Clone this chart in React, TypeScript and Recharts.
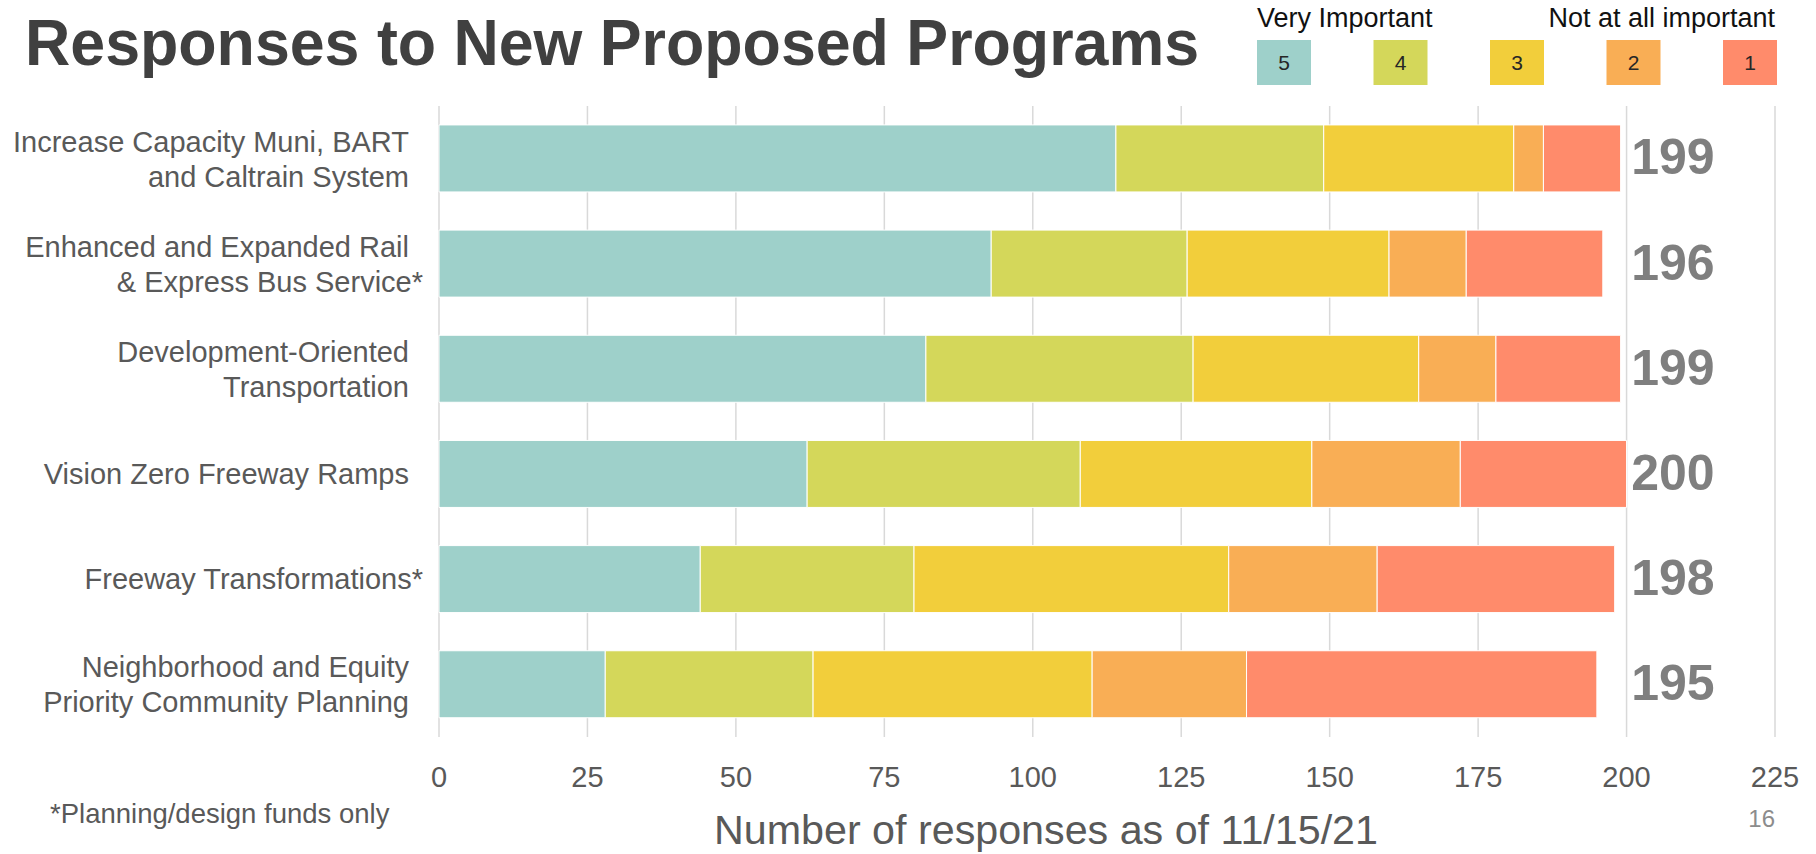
import React from "react";
import { BarChart, Bar, XAxis, YAxis, CartesianGrid, LabelList } from "recharts";

// ---------- data ----------
const categories = [
  "Increase Capacity Muni, BART\nand Caltrain System",
  "Enhanced and Expanded Rail\n& Express Bus Service*",
  "Development-Oriented\nTransportation",
  "Vision Zero Freeway Ramps",
  "Freeway Transformations*",
  "Neighborhood and Equity\nPriority Community Planning",
];
const score5 = [114, 93, 82, 62, 44, 28];
const score4 = [35, 33, 45, 46, 36, 35];
const score3 = [32, 34, 38, 39, 53, 47];
const score2 = [5, 13, 13, 25, 25, 26];
const score1 = [13, 23, 21, 28, 40, 59];
const xTicks = [0, 25, 50, 75, 100, 125, 150, 175, 200, 225];
const seriesNames = ["5", "4", "3", "2", "1"];
const seriesKeys = ["s5", "s4", "s3", "s2", "s1"];
const seriesColors = ["#9ED0CA", "#D4D75A", "#F2CE3B", "#F9AE55", "#FF8B6B"];
const titleText = "Responses to New Proposed Programs";
const legendHigh = "Very Important";
const legendLow = "Not at all important";
const xAxisTitle = "Number of responses as of 11/15/21";
const footnote = "*Planning/design funds only";
const pageNumber = "16";

const seriesValues = [score5, score4, score3, score2, score1];
const data = categories.map((name, i) => {
  const row: any = { name };
  seriesKeys.forEach((k, j) => (row[k] = seriesValues[j][i]));
  row.total = seriesValues.reduce((s, arr) => s + arr[i], 0);
  return row;
});

// ---------- layout ----------
const W = 1816;
const H = 854;
const PLOT_LEFT = 439;
const PLOT_TOP = 106;
const PLOT_BOTTOM = 737;
const PLOT_RIGHT = 1775;
const LABEL_VALUE = 207.8;
const FONT = "'Liberation Sans', Arial, sans-serif";

const YTick = (props: any) => {
  const { y, payload } = props;
  const lines = String(payload.value).split("\n");
  const base = lines.length === 1 ? [10] : [-7, 28];
  return (
    <g>
      {lines.map((ln, i) => (
        <text
          key={i}
          x={409 + (ln.endsWith("*") ? 14 : 0)}
          y={y + base[i]}
          textAnchor="end"
          fontSize={29}
          fontFamily={FONT}
          fill="#595959"
        >
          {ln}
        </text>
      ))}
    </g>
  );
};

const XTick = (props: any) => {
  const { x, payload } = props;
  return (
    <text x={x} y={PLOT_BOTTOM + 50} textAnchor="middle" fontSize={29} fontFamily={FONT} fill="#595959">
      {payload.value}
    </text>
  );
};

const TotalLabel = (props: any) => {
  const { x, y, width, height, value } = props;
  const end = Number(x) + Number(width);
  const ppu = (end - PLOT_LEFT) / Number(value);
  const cx = PLOT_LEFT + LABEL_VALUE * ppu;
  return (
    <text
      x={cx}
      y={Number(y) + Number(height) / 2 + 16}
      textAnchor="middle"
      fontSize={50}
      fontWeight="bold"
      fontFamily={FONT}
      fill="#7F7F7F"
    >
      {value}
    </text>
  );
};

export default function App() {
  return (
    <div style={{ position: "absolute", left: 0, top: 0, width: W, height: H, background: "#fff" }}>
      <BarChart
        width={W}
        height={H}
        data={data}
        layout="vertical"
        margin={{ top: PLOT_TOP, right: W - PLOT_RIGHT, bottom: 0, left: 0 }}
        barCategoryGap="18%"
      >
        <CartesianGrid horizontal={false} vertical={true} stroke="#D9D9D9" strokeWidth={1.5} />
        <XAxis
          type="number"
          domain={[0, 225]}
          ticks={xTicks}
          interval={0}
          axisLine={false}
          tickLine={false}
          height={H - PLOT_BOTTOM}
          tick={<XTick />}
        />
        <YAxis
          type="category"
          dataKey="name"
          width={PLOT_LEFT}
          axisLine={false}
          tickLine={false}
          interval={0}
          tick={<YTick />}
        />
        {seriesKeys.map((k, j) => (
          <Bar
            key={k}
            dataKey={k}
            name={seriesNames[j]}
            stackId="a"
            fill={seriesColors[j]}
            stroke="#FFFFFF"
            strokeWidth={1}
            isAnimationActive={false}
          >
            {j === seriesKeys.length - 1 ? <LabelList dataKey="total" content={<TotalLabel />} /> : null}
          </Bar>
        ))}
      </BarChart>
      <svg
        width={W}
        height={H}
        style={{ position: "absolute", left: 0, top: 0, pointerEvents: "none" }}
      >
        <text
          x={25}
          y={65}
          fontSize={65}
          fontWeight="bold"
          fontFamily={FONT}
          fill="#404040"
          textLength={1174}
          lengthAdjust="spacingAndGlyphs"
        >
          {titleText}
        </text>
        <text x={1257} y={27} fontSize={27} fontFamily={FONT} fill="#111">
          {legendHigh}
        </text>
        <text x={1775} y={27} fontSize={27} fontFamily={FONT} fill="#111" textAnchor="end">
          {legendLow}
        </text>
        {seriesNames.map((n, j) => {
          const lx = 1257 + j * 116.5;
          return (
            <g key={n}>
              <rect x={lx} y={40} width={54} height={45} fill={seriesColors[j]} />
              <text x={lx + 27} y={70} textAnchor="middle" fontSize={21} fontFamily={FONT} fill="#262626">
                {n}
              </text>
            </g>
          );
        })}
        <text
          x={1046}
          y={844}
          textAnchor="middle"
          fontSize={40}
          fontFamily={FONT}
          fill="#595959"
          textLength={664}
          lengthAdjust="spacingAndGlyphs"
        >
          {xAxisTitle}
        </text>
        <text x={50} y={823} fontSize={27.5} fontFamily={FONT} fill="#595959">
          {footnote}
        </text>
        <text x={1775} y={827} textAnchor="end" fontSize={24} fontFamily={FONT} fill="#8C8C8C">
          {pageNumber}
        </text>
      </svg>
    </div>
  );
}
